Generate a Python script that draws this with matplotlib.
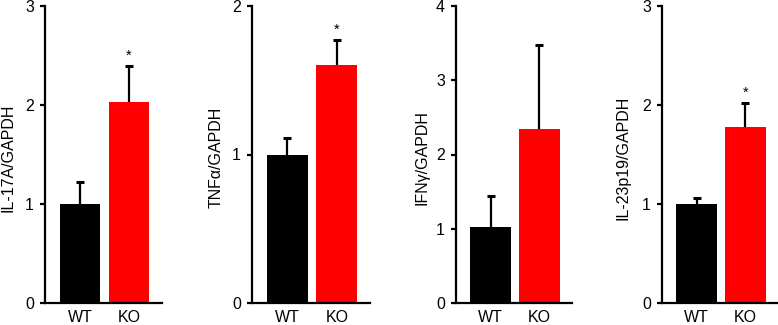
import matplotlib
matplotlib.use('Agg')
import matplotlib.pyplot as plt

plt.rcParams['font.family'] = ['Liberation Sans', 'DejaVu Sans']

# Datos
grupos = ['WT', 'KO']
etiquetas_y = ['IL-17A/GAPDH', 'TNF\u03b1/GAPDH', 'IFN\u03b3/GAPDH', 'IL-23p19/GAPDH']
medias_wt = [1.0, 1.0, 1.02, 1.0]
medias_ko = [2.03, 1.60, 2.34, 1.78]
error_wt = [0.22, 0.11, 0.42, 0.06]
error_ko = [0.36, 0.17, 1.13, 0.24]
y_max = [3, 2, 4, 3]
significativo = [True, True, False, True]

colores = ['black', '#ff0000']

W, H = 778, 325
fig = plt.figure(figsize=(W / 100, H / 100), dpi=100)

# posiciones de ejes en pixeles (izquierda, derecha) y centro de la etiqueta y
ejes_px = [(45, 162), (252, 370), (456, 572), (662, 778)]
etiqueta_px = [8.5, 216, 422, 623]
y_abajo, y_arriba = 303, 6

for i in range(4):
    x0, x1 = ejes_px[i]
    ax = fig.add_axes([x0 / W, (H - y_abajo) / H, (x1 - x0) / W, (y_abajo - y_arriba) / H])
    vals = [medias_wt[i], medias_ko[i]]
    errs = [error_wt[i], error_ko[i]]
    ax.bar([0, 1], vals, width=0.83, color=colores, zorder=2)
    eb = ax.errorbar([0, 1], vals, yerr=[[0, 0], errs], fmt='none', ecolor='black',
                     elinewidth=1.6, capsize=2.8, capthick=2.2, zorder=1)
    eb[1][0].set_visible(False)  # sin tapa inferior
    if significativo[i]:
        ax.text(1, vals[1] + errs[1] + y_max[i] * 0.012, '*', ha='center', va='bottom', fontsize=10.5)
    ax.set_xlim(-0.71, 1.67)
    ax.set_ylim(0, y_max[i])
    ax.set_yticks(range(0, y_max[i] + 1))
    ax.set_xticks([0, 1])
    ax.set_xticklabels(grupos)
    ax.set_ylabel(etiquetas_y[i], fontsize=11.5, va='center')
    ax.yaxis.set_label_coords((etiqueta_px[i] - x0) / (x1 - x0), 0.49)
    for s in ['top', 'right']:
        ax.spines[s].set_visible(False)
    for s in ['left', 'bottom']:
        ax.spines[s].set_linewidth(1.6)
    ax.tick_params(axis='y', length=3.5, width=1.6, labelsize=11.5, pad=4.5)
    ax.tick_params(axis='x', length=0, labelsize=11.5, pad=5)

fig.savefig('out.png', dpi=100)
